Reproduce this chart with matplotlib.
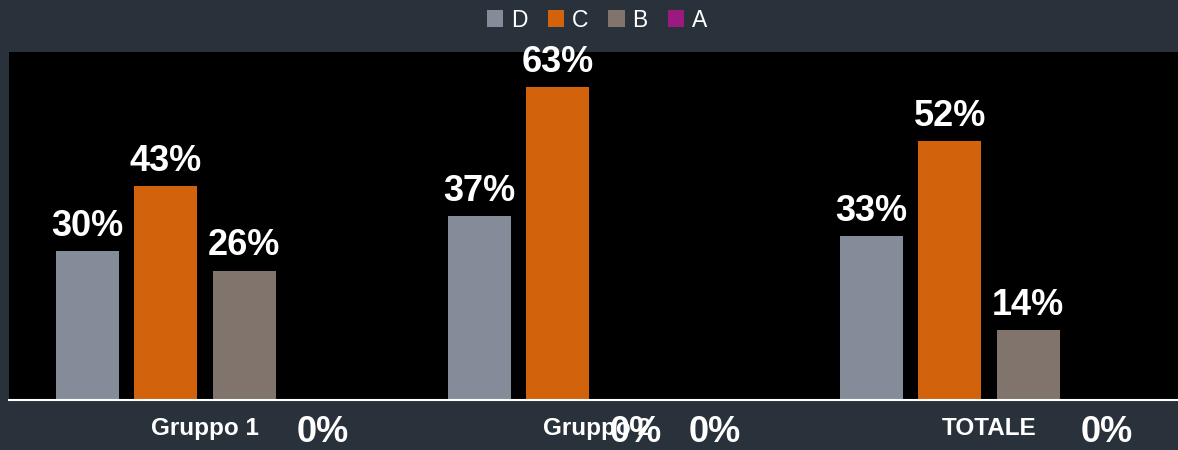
import matplotlib.pyplot as plt
import numpy as np
from matplotlib.patches import Patch

# === Data ===
categories = ['Gruppo 1', 'Gruppo 2', 'TOTALE']
series_names = ['D', 'C', 'B', 'A']
values_d = [30, 37, 33]
values_c = [43, 63, 52]
values_b = [26, 0, 14]
values_a = [0, 0, 0]

colors = ['#858c99', '#d2620c', '#80746c', '#9b1a80']
bg = '#29323a'

plt.rcParams['font.family'] = ['Liberation Sans', 'DejaVu Sans']

fig = plt.figure(figsize=(11.78, 4.5), dpi=100, facecolor=bg)
ax = fig.add_axes([9 / 1178, 50 / 450, 1176 / 1178, 348 / 450])
ax.set_facecolor('black')

x = np.arange(len(categories))
all_values = [values_d, values_c, values_b, values_a]
step = 0.2
width = 0.16

for k, (name, vals) in enumerate(zip(series_names, all_values)):
    pos = x + (k - 1.5) * step
    ax.bar(pos, vals, width=width, color=colors[k], label=name, zorder=2)
    for px, v in zip(pos, vals):
        if v > 0:
            ax.annotate(f'{v}%', (px, v), xytext=(0, 11), textcoords='offset points',
                        ha='center', va='baseline', color='white',
                        fontsize=26, fontweight='bold')
        else:
            # zero values sit under the axis line
            ax.annotate(f'{v}%', (px, 0), xytext=(0, -30.5), textcoords='offset points',
                        ha='center', va='baseline', color='white',
                        fontsize=26, fontweight='bold', annotation_clip=False)

# category labels below axis
for i, cat in enumerate(categories):
    ax.annotate(cat, (i, 0), xytext=(0, -25), textcoords='offset points',
                ha='center', va='baseline', color='white',
                fontsize=17.5, fontweight='bold', annotation_clip=False)

ax.set_xlim(-0.5, 2.5)
ax.set_ylim(0, 70)
ax.set_xticks([])
ax.set_yticks([])
for s in ['top', 'right', 'left']:
    ax.spines[s].set_visible(False)
ax.spines['bottom'].set_color('white')
ax.spines['bottom'].set_linewidth(1.5)
ax.spines['bottom'].set_zorder(3)

handles = [Patch(facecolor=c, edgecolor='none') for c in colors]
leg = ax.legend(handles, series_names, loc='center', bbox_to_anchor=(0.5, 1 + 32 / 348),
                ncol=4, frameon=False, fontsize=16.5, handlelength=0.72, handleheight=0.72,
                handletextpad=0.34, columnspacing=0.87, borderaxespad=0)
for t in leg.get_texts():
    t.set_color('white')

fig.savefig('out.png', dpi=100, facecolor=bg)
